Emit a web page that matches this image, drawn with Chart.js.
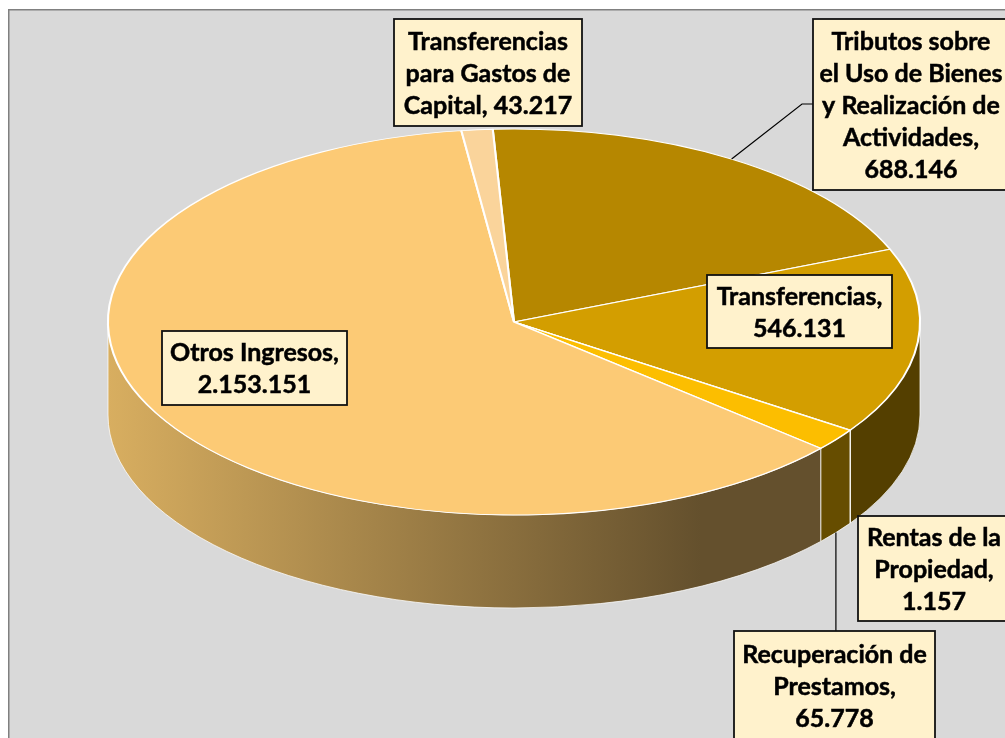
<!DOCTYPE html>
<html><head><meta charset="utf-8">
<script src="https://cdn.jsdelivr.net/npm/chart.js@4/dist/chart.umd.min.js"></script>
<style>html,body{margin:0;padding:0;background:#fff;overflow:hidden}canvas{display:block}</style>
</head><body>
<canvas id="c" width="1005" height="738"></canvas>
<script>
// ---- data ----
const categories = [
  "Tributos sobre el Uso de Bienes y Realización de Actividades",
  "Transferencias",
  "Rentas de la Propiedad",
  "Recuperación de Prestamos",
  "Otros Ingresos",
  "Transferencias para Gastos de Capital"
];
const values = [688146, 546131, 1157, 65778, 2153151, 43217];

// ---- styles / layout ----
const topColors  = ["#B68700", "#D39E00", "#E6AD00", "#FCBE00", "#FCCA75", "#FAD49B"];
const wallColors = ["#5B4300", "#543F00", "#5E4700", "#664D00", null, "#7D6A4D"];
const lineBreaks = [[2,4,3,1,1],[1,1],[3,1,1],[2,1,1],[2,1],[1,3,2]];
const labelBoxes = [
  {x:813, y:19,  w:196, h:171},
  {x:707, y:275, w:185, h:73},
  {x:858, y:516, w:152, h:105},
  {x:734, y:631, w:201, h:110},
  {x:162, y:331, w:185, h:74},
  {x:394, y:19,  w:188, h:107}
];
const ELL = {rx: 406, depth: 93};
const FONT = "bold 25px Lato, 'Open Sans', sans-serif";
const LINE_H = 32;

function fmt(v){ return String(v).replace(/\B(?=(\d{3})+(?!\d))/g, '.'); }
function labelLines(i){
  const words = (categories[i] + ", " + fmt(values[i])).split(" ");
  const out = []; let k = 0;
  lineBreaks[i].forEach(n => { out.push(words.slice(k, k+n).join(" ")); k += n; });
  return out;
}

function geom(chart){
  const meta = chart.getDatasetMeta(0);
  const a0 = meta.data[0];
  return {meta, cx:a0.x, cy:a0.y, ry:a0.outerRadius, rx:ELL.rx, D:ELL.depth};
}

const pie3d = {
  id: 'pie3d',
  beforeDraw(chart){
    const ctx = chart.ctx;
    ctx.save();
    ctx.fillStyle = '#ffffff'; ctx.fillRect(0,0,chart.width,chart.height);
    ctx.fillStyle = '#D9D9D9'; ctx.fillRect(8,9,1010,740);
    ctx.strokeStyle = '#808080'; ctx.lineWidth = 1.5; ctx.strokeRect(8.75,9.75,1010,740);
    ctx.restore();
  },
  beforeDatasetsDraw(chart){
    const ctx = chart.ctx;
    const {meta, cx, cy, ry, rx, D} = geom(chart);
    const grad = ctx.createLinearGradient(cx - rx, 0, cx + 0.46*rx, 0);
    grad.addColorStop(0, '#D8AE60');
    grad.addColorStop(1, '#64502D');
    ctx.save();
    meta.data.forEach((arc, i) => {
      const s = arc.startAngle, e = arc.endAngle;
      for (const k of [-1, 0, 1]) {
        const a = Math.max(s, 2*Math.PI*k), b = Math.min(e, 2*Math.PI*k + Math.PI);
        if (b <= a) continue;
        ctx.beginPath();
        ctx.ellipse(cx, cy, rx, ry, 0, a, b, false);
        ctx.ellipse(cx, cy + D, rx, ry, 0, b, a, true);
        ctx.closePath();
        ctx.fillStyle = wallColors[i] || grad;
        ctx.fill();
        ctx.strokeStyle = 'rgba(255,255,255,0.75)';
        ctx.lineWidth = 1;
        ctx.stroke();
      }
    });
    // squash the library's circle into the top ellipse
    ctx.save();
    ctx.translate(cx, cy);
    ctx.scale(rx / ry, 1);
    ctx.translate(-cx, -cy);
  },
  afterDatasetsDraw(chart){
    chart.ctx.restore();
    chart.ctx.restore();
  },
  afterDraw(chart){
    const ctx = chart.ctx;
    const {meta, cx, cy, ry, rx, D} = geom(chart);
    ctx.save();
    ctx.strokeStyle = '#000'; ctx.lineWidth = 1.2;
    // leader: Tributos
    {
      const arc = meta.data[0]; const t = (arc.startAngle + arc.endAngle)/2;
      const b = labelBoxes[0];
      ctx.beginPath();
      ctx.moveTo(cx + rx*Math.cos(t), cy + ry*Math.sin(t));
      ctx.lineTo(802, 104); ctx.lineTo(b.x, 104);
      ctx.stroke();
    }
    // leader: Recuperación
    {
      const arc = meta.data[3]; const t = (arc.startAngle + arc.endAngle)/2;
      const b = labelBoxes[3];
      const x = cx + rx*Math.cos(t);
      ctx.beginPath();
      ctx.moveTo(x, cy + D + ry*Math.sin(t));
      ctx.lineTo(x, b.y);
      ctx.stroke();
    }
    // boxes
    ctx.font = FONT; ctx.textAlign = 'center'; ctx.textBaseline = 'middle';
    labelBoxes.forEach((b, i) => {
      ctx.fillStyle = '#FFF2CC';
      ctx.fillRect(b.x, b.y, b.w, b.h);
      ctx.lineWidth = 1.8; ctx.strokeStyle = '#111';
      ctx.strokeRect(b.x, b.y, b.w, b.h);
      const lines = labelLines(i);
      ctx.fillStyle = '#000'; ctx.strokeStyle = '#000'; ctx.lineWidth = 0.5;
      lines.forEach((ln, j) => {
        const y = b.y + b.h/2 + (j - (lines.length-1)/2)*LINE_H + 1;
        ctx.fillText(ln, b.x + b.w/2, y);
        ctx.strokeText(ln, b.x + b.w/2, y);
      });
    });
    ctx.restore();
  }
};

new Chart(document.getElementById('c'), {
  type: 'pie',
  data: {
    labels: categories,
    datasets: [{
      data: values,
      backgroundColor: topColors,
      borderColor: '#FFFFFF',
      borderWidth: 1,
      clip: false
    }]
  },
  options: {
    responsive: false,
    animation: false,
    events: [],
    rotation: -3,
    layout: {padding: {left: 214, right: 191, top: 128.5, bottom: 222.5}},
    plugins: {legend: {display: false}, tooltip: {enabled: false}}
  },
  plugins: [pie3d]
});
</script>
</body></html>
